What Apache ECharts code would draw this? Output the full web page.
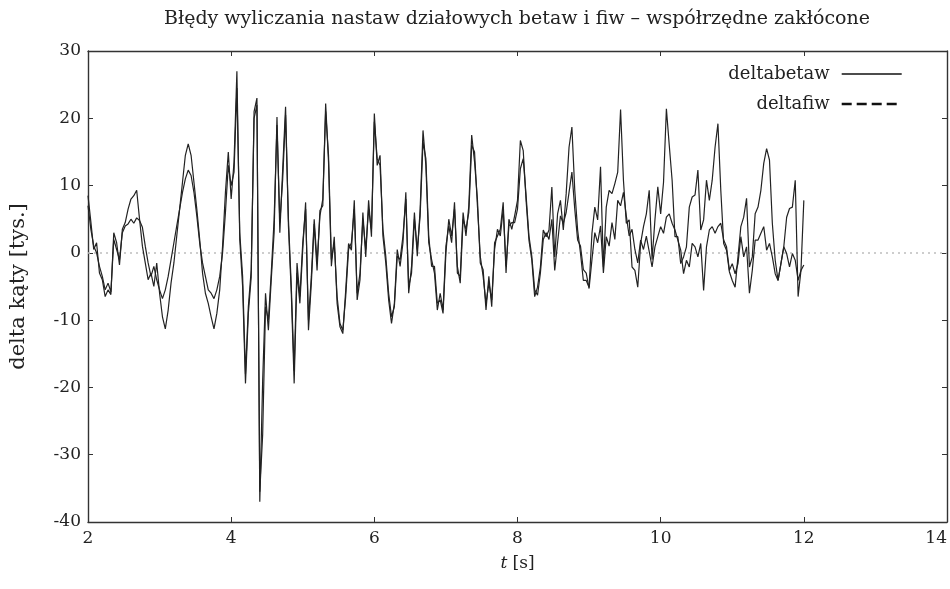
<!DOCTYPE html>
<html><head><meta charset="utf-8">
<script src="https://cdn.jsdelivr.net/npm/echarts@6/dist/echarts.min.js"></script>
<style>html,body{margin:0;padding:0;background:#fff}#c{width:950px;height:589px}</style>
</head><body><div id="c"></div>
<script>
// sampling of the time axis [s]
const tStart = 2;
const tStep = 0.04;
const xTicks = [2, 14, 2];      // min, max, interval
const yTicks = [-40, 30, 10];   // min, max, interval
const seriesNames = ['deltabetaw', 'deltafiw'];

const deltabetaw = [
  8.5, 4.6, 0.5, 1.5, -3.0, -4.0, -6.5, -5.5, -6.2, 3.0, 1.5, -1.8, 3.5, 4.5, 6.5, 8.0, 8.5, 9.3, 5.0, 1.0, -1.5, -4.0, -3.0, -5.0, -1.5,
  -6.0, -9.5, -11.3, -8.5, -4.5, -1.5, 2.5, 6.5, 10.5, 14.5, 16.2, 14.5, 10.5, 6.5, 2.0, -3.0, -6.0, -7.5, -9.5, -11.3, -9.0, -5.5, 1.0, 9.0, 15.0,
  8.0, 13.5, 27.0, 2.0, -5.0, -19.4, -9.0, -3.6, 21.0, 23.0, -37.0, -19.0, -6.0, -11.5, -4.0, 3.0, 20.2, 3.0, 12.5, 21.7, 4.0, -6.0, -19.4, -3.0, -7.5,
  0.5, 7.5, -11.5, -4.5, 4.3, -2.6, 6.3, 7.0, 22.2, 13.5, -2.0, 2.4, -7.5, -11.0, -12.0, -5.6, 1.4, 0.4, 7.8, -7.0, -4.0, 6.0, -0.6, 7.8, 2.4,
  20.7, 13.0, 14.5, 2.5, -1.5, -7.0, -10.5, -7.5, 0.5, -2.0, 1.5, 9.0, -6.0, -2.0, 6.0, -0.5, 6.5, 18.2, 13.0, 1.5, -1.0, -3.0, -8.5, -6.0, -8.5,
  1.0, 4.0, 1.5, 7.5, -3.0, -3.5, 6.0, 2.5, 7.0, 17.5, 13.5, 8.0, -1.5, -2.5, -8.5, -3.5, -8.0, 1.5, 2.5, 3.5, 7.5, -3.0, 5.0, 3.5, 5.5,
  7.8, 16.7, 15.2, 7.8, 1.9, -1.1, -6.5, -5.1, -2.1, 3.4, 2.4, 3.4, 9.8, -0.6, 5.8, 7.8, 3.4, 8.8, 15.7, 18.7, 9.3, 3.4, -0.1, -4.1, -4.1,
  -5.1, 2.9, 6.8, 4.9, 12.8, -2.1, 6.8, 9.3, 8.8, 10.3, 12.0, 21.3, 10.8, 4.4, 4.9, -2.1, -2.6, -5.1, 1.4, 3.9, 5.8, 9.3, -1.0, 4.9, 9.8,
  5.8, 10.5, 21.4, 16.0, 10.8, 2.4, 2.4, -1.6, -0.6, 0.9, 6.8, 8.3, 8.6, 12.3, 3.4, 4.9, 10.8, 7.8, 10.8, 15.7, 19.2, 9.3, 1.4, 0.4, -2.8,
  -4.1, -5.1, -0.6, 3.9, 5.3, 8.1, -2.1, -0.6, 5.8, 6.8, 9.3, 13.3, 15.5, 13.8, 4.4, -1.1, -4.1, -1.6, 0.9, 5.3, 6.6, 6.8, 10.8, -6.5, -2.6,
  7.8
];

const deltafiw = [
  7.0, 3.5, 1.0, 0.0, -2.0, -3.5, -5.5, -4.5, -5.8, 2.0, 0.5, -1.0, 3.0, 4.0, 4.3, 5.0, 4.4, 5.2, 4.8, 3.8, 1.0, -1.5, -3.5, -2.0, -4.0,
  -5.5, -6.8, -5.5, -3.5, -1.0, 1.5, 4.0, 6.5, 9.0, 11.0, 12.3, 11.5, 9.0, 5.5, 1.5, -1.5, -3.5, -5.5, -6.0, -6.8, -5.5, -3.5, 0.0, 6.0, 13.0,
  10.0, 12.0, 24.5, 3.0, -3.5, -18.0, -8.0, -2.5, 20.0, 22.0, -35.5, -27.0, -8.0, -10.0, -3.0, 5.0, 19.0, 4.5, 11.0, 20.5, 5.0, -5.0, -17.5, -1.5, -6.5,
  1.5, 6.5, -10.0, -3.5, 5.0, -1.5, 5.5, 8.0, 21.0, 14.5, -1.0, 1.5, -6.5, -10.5, -11.5, -6.5, 0.5, 1.5, 6.5, -6.0, -3.0, 5.0, 0.5, 6.5, 3.5,
  19.5, 14.0, 13.0, 3.5, -0.5, -6.0, -9.5, -8.0, -0.5, -1.0, 2.5, 8.0, -5.0, -3.0, 5.0, 0.5, 5.5, 16.5, 14.0, 2.5, -2.0, -2.0, -7.5, -7.0, -9.0,
  0.0, 5.0, 2.5, 6.5, -2.0, -4.5, 5.0, 3.5, 6.0, 16.0, 15.0, 7.0, -0.5, -3.5, -7.5, -4.5, -7.0, 0.5, 3.5, 2.5, 6.5, -2.0, 4.0, 4.5, 4.5,
  6.5, 12.5, 14.0, 8.5, 2.5, -0.5, -5.5, -6.3, -3.0, 2.0, 3.0, 2.0, 5.0, -2.6, 1.5, 5.5, 4.4, 6.0, 9.0, 12.0, 6.5, 1.9, 1.0, -2.5, -3.0,
  -5.3, -1.0, 3.0, 1.5, 4.0, -3.0, 2.4, 1.0, 4.5, 2.0, 7.8, 7.0, 9.0, 5.5, 2.5, 3.5, 0.5, -1.5, 1.9, 0.5, 2.5, 0.2, -2.1, 0.9, 2.4,
  3.9, 2.9, 5.3, 5.8, 4.4, 3.4, 1.9, 0.4, -3.1, -1.1, -2.1, 1.4, 0.9, -0.6, 1.4, -5.6, 0.9, 3.4, 3.9, 2.9, 3.9, 4.4, 1.9, 0.9, -2.6,
  -1.6, -3.1, -1.6, 2.4, -0.6, 0.9, -6.0, -2.6, 1.9, 1.9, 2.9, 3.9, 0.4, 1.4, -0.6, -3.1, -4.1, -1.6, 0.9, -0.1, -2.1, -0.1, -1.1, -4.1, -2.6,
  -1.8
];

const FONT = 'DejaVu Serif';
const INK = '#222';
const toPairs = arr => arr.map((v, i) => [+(tStart + i * tStep).toFixed(2), v]);

const axisLineStyle = { color: '#333', width: 1.4 };
const tickStyle = { show: true, inside: true, length: 5, lineStyle: { color: '#333', width: 1 } };
const hiddenSymbol = { opacity: 0, color: 'rgba(0,0,0,0)', borderWidth: 0 };

const chart = echarts.init(document.getElementById('c'), null, { renderer: 'canvas' });
chart.setOption({
  animation: false,
  backgroundColor: '#fff',
  title: {
    text: 'Błędy wyliczania nastaw działowych betaw i fiw – współrzędne zakłócone',
    left: 512, top: 5, textAlign: 'center',
    textStyle: { fontFamily: FONT, fontSize: 19, fontWeight: 'normal', color: INK }
  },
  grid: { left: 87, right: -3, top: 51, bottom: 67, containLabel: false },
  legend: {
    orient: 'vertical', right: 42, top: 60, align: 'right',
    itemWidth: 60, itemHeight: 18, itemGap: 12,
    itemStyle: hiddenSymbol,
    textStyle: { fontFamily: FONT, fontSize: 18, color: INK, padding: [0, 7, 0, 0] },
    data: [
      { name: seriesNames[0], itemStyle: hiddenSymbol, lineStyle: { width: 1.5, color: '#111' } },
      { name: seriesNames[1], itemStyle: hiddenSymbol, lineStyle: { type: [10, 5], width: 2.6, color: '#111' } }
    ]
  },
  xAxis: [
    {
      type: 'value', min: xTicks[0], max: xTicks[1], interval: xTicks[2], position: 'bottom',
      axisLine: { show: true, onZero: false, lineStyle: axisLineStyle },
      axisTick: tickStyle, splitLine: { show: false },
      axisLabel: { fontFamily: FONT, fontSize: 17, color: INK, margin: 8, alignMaxLabel: 'right' },
      name: '{i|t} [s]', nameLocation: 'middle', nameGap: 33,
      nameTextStyle: { fontFamily: FONT, fontSize: 17, color: INK, rich: { i: { fontFamily: FONT, fontSize: 17, fontStyle: 'italic', color: INK } } }
    },
    {
      type: 'value', min: xTicks[0], max: xTicks[1], interval: xTicks[2], position: 'top',
      axisLine: { show: true, onZero: false, lineStyle: axisLineStyle },
      axisTick: tickStyle, axisLabel: { show: false }, splitLine: { show: false }
    }
  ],
  yAxis: [
    {
      type: 'value', min: yTicks[0], max: yTicks[1], interval: yTicks[2], position: 'left',
      axisLine: { show: true, onZero: false, lineStyle: axisLineStyle },
      axisTick: tickStyle, splitLine: { show: false },
      axisLabel: { fontFamily: FONT, fontSize: 17, color: INK, margin: 7 },
      name: 'delta kąty [tys.]', nameLocation: 'middle', nameGap: 59, nameRotate: 90,
      nameTextStyle: { fontFamily: FONT, fontSize: 21, color: INK }
    },
    {
      type: 'value', min: yTicks[0], max: yTicks[1], interval: yTicks[2], position: 'right',
      axisLine: { show: true, onZero: false, lineStyle: axisLineStyle },
      axisTick: tickStyle, axisLabel: { show: false }, splitLine: { show: false }
    }
  ],
  series: [
    {
      name: seriesNames[0], type: 'line', xAxisIndex: 0, yAxisIndex: 0,
      data: toPairs(deltabetaw), symbol: 'none', z: 3,
      lineStyle: { color: INK, width: 1.2 }, itemStyle: { color: INK },
      markLine: {
        silent: true, symbol: 'none', label: { show: false }, z: 1,
        lineStyle: { color: '#bdbdbd', type: [2, 4], width: 1.5 },
        data: [{ yAxis: 0 }]
      }
    },
    {
      name: seriesNames[1], type: 'line', xAxisIndex: 0, yAxisIndex: 0,
      data: toPairs(deltafiw), symbol: 'none', z: 4,
      lineStyle: { color: INK, width: 1.2 }, itemStyle: { color: INK }
    }
  ]
});
</script>
</body></html>
